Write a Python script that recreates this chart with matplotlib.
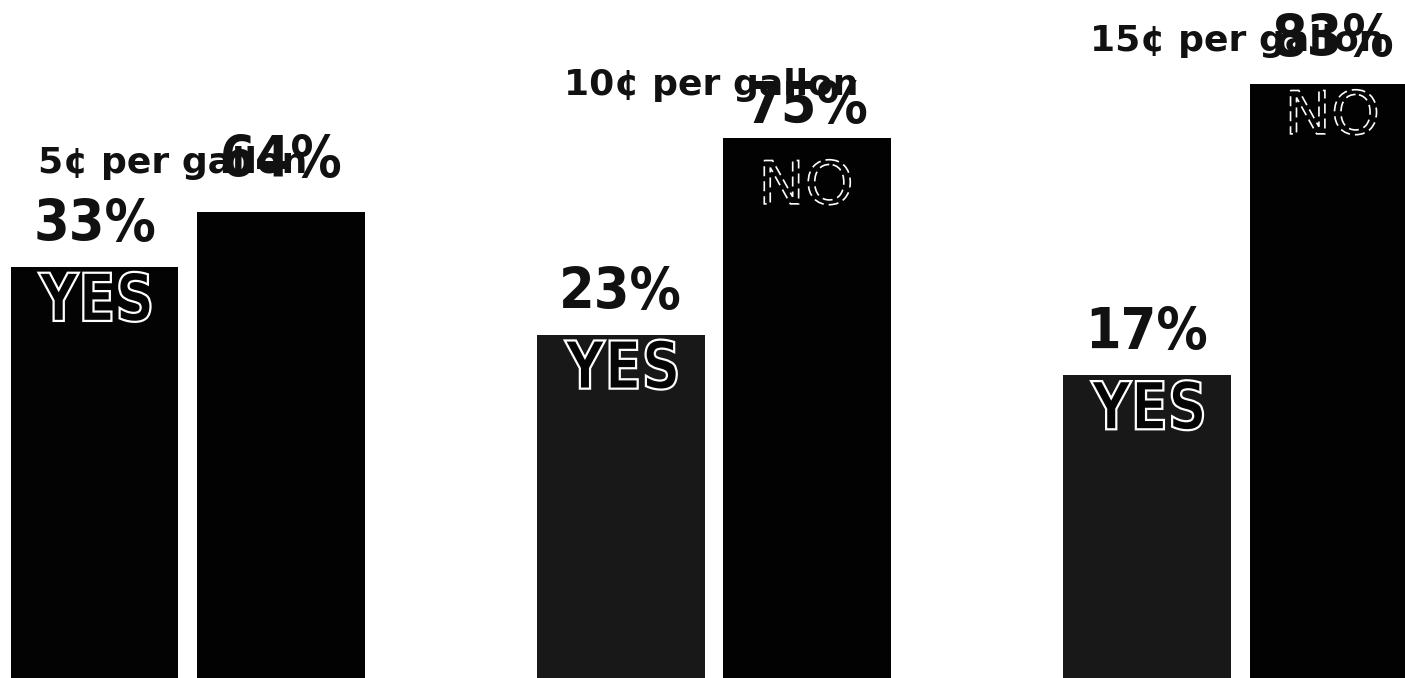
import matplotlib
matplotlib.use("Agg")
import matplotlib.pyplot as plt
from matplotlib.textpath import TextPath
from matplotlib.patches import PathPatch
from matplotlib.font_manager import FontProperties
from matplotlib.transforms import Affine2D, IdentityTransform
import numpy as np

# ---- data ----
groups = ["5¢ per gallon", "10¢ per gallon", "15¢ per gallon"]
yes_values = [33, 23, 17]
no_values = [64, 75, 83]
yes_labels = ["YES", "YES", "YES"]
no_labels = ["", "NO", "NO"]

# ---- layout / style constants ----
W, H, DPI = 1405, 678, 100
BAR_OFF = 0.1772
BAR_W = 0.319
BASE = -60  # bars start below visible area
NO_YLIM = (-5.04, 95.4)
YES_YLIM = (-27.7, 72.4)
TITLE_Y_PX = [173, 95, 51]
TITLE_DX_PX = 27
YES_PCT_GAP_PX = 26
NO_PCT_GAP_PX = [35, 15, 28]
YES_LAB_SIZE = (112, 50)   # width, cap height in px
YES_LAB_DROP = 5
NO_LAB_SIZE = (86, 45)
NO_LAB_DROP = [20, 22, 6]
FONT = ["DejaVu Sans"]

fig = plt.figure(figsize=(W / DPI, H / DPI), dpi=DPI)
ax = fig.add_axes([0, 0, 1, 1])
ax2 = ax.twinx()
for a in (ax, ax2):
    a.set_xlim(-0.3568, 2.313)
    a.axis("off")
ax.set_ylim(*NO_YLIM)
ax2.set_ylim(*YES_YLIM)

x = np.arange(len(groups))
yes_x = x - BAR_OFF
no_x = x + BAR_OFF
yes_arr = np.array(yes_values, dtype=float)
no_arr = np.array(no_values, dtype=float)

ax.bar(no_x, no_arr - BASE, bottom=BASE, width=BAR_W, color="#020202", zorder=2)
yes_colors = ["#030303", "#181818", "#181818"]
ax2.bar(yes_x, yes_arr - BASE, bottom=BASE, width=BAR_W, color=yes_colors, zorder=2)

pt = 72.0 / DPI
pct_font = dict(family=FONT, fontsize=41, fontweight="bold", color="#111111",
                fontstretch="condensed")
for xi, v in zip(yes_x, yes_values):
    ax2.annotate(f"{v}%", xy=(xi, v), xytext=(0, YES_PCT_GAP_PX * pt),
                 textcoords="offset points", ha="center", va="baseline", **pct_font)
for xi, v, gap in zip(no_x, no_values, NO_PCT_GAP_PX):
    ax.annotate(f"{v}%", xy=(xi, v), xytext=(0, gap * pt),
                textcoords="offset points", ha="center", va="baseline", **pct_font)


def hollow_label(axis, xi, v, text, size, drop, lw, ls, weight):
    if not text:
        return
    tp = TextPath((0, 0), text, size=1,
                  prop=FontProperties(family="DejaVu Sans", weight=weight))
    bb = tp.get_extents()
    px, py = axis.transData.transform((xi, v))
    tr = (Affine2D().translate(-(bb.x0 + bb.width / 2), -bb.y1)
          .scale(size[0] / bb.width, size[1] / bb.height)
          .translate(px, py - drop))
    patch = PathPatch(tr.transform_path(tp), transform=IdentityTransform(),
                      facecolor="#050505", edgecolor="white", lw=lw, linestyle=ls,
                      zorder=6)
    fig.add_artist(patch)


for xi, v, lab in zip(yes_x, yes_values, yes_labels):
    hollow_label(ax2, xi, v, lab, YES_LAB_SIZE, YES_LAB_DROP, 1.6, "-", "bold")
for xi, v, lab, d in zip(no_x, no_values, no_labels, NO_LAB_DROP):
    hollow_label(ax, xi, v, lab, NO_LAB_SIZE, d, 1.2, (0, (6, 3)), "normal")

# group titles
for xi, g, ypx in zip(yes_x, groups, TITLE_Y_PX):
    left_px = ax.transData.transform((xi - BAR_W / 2, 0))[0]
    fig.text((left_px + TITLE_DX_PX) / W, 1 - ypx / H, g,
             ha="left", va="baseline", family=FONT, fontsize=26, fontweight="bold",
             color="#111111", zorder=7)

fig.savefig("out.png", dpi=DPI, facecolor="white")
